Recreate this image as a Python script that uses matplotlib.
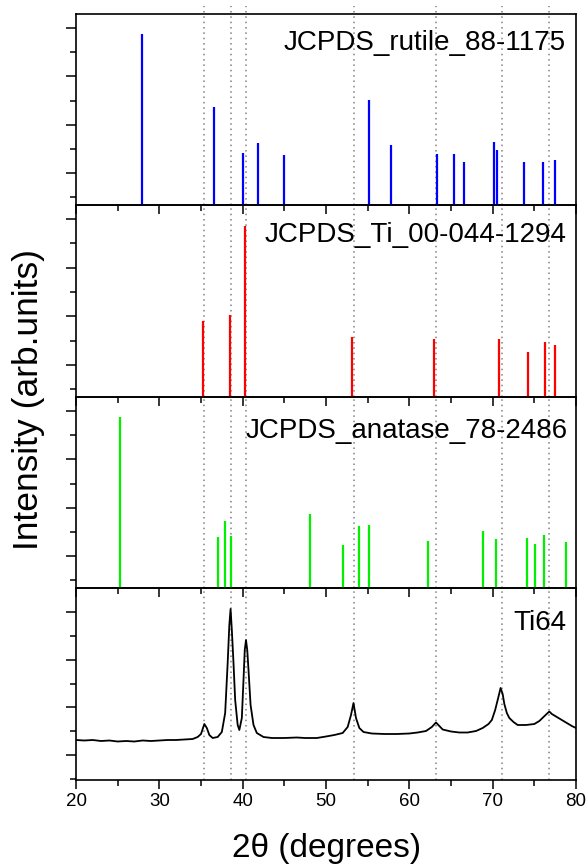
import numpy as np
import matplotlib
matplotlib.use('Agg')
import matplotlib.pyplot as plt
from matplotlib.ticker import FixedLocator, MultipleLocator, NullFormatter

plt.rcParams['font.family'] = ['Liberation Sans', 'DejaVu Sans']

# ---- reference cards (2theta, relative intensity %) ----
rutile_pos = [27.9, 36.5, 40.0, 41.8, 44.9, 55.2, 57.8, 63.3, 65.4, 66.6,
              70.2, 70.5, 73.8, 76.0, 77.5]
rutile_int = [100, 57.7, 30.7, 36.5, 29.3, 61.6, 35.0, 29.9, 30.1, 25.4,
              36.8, 32.4, 25.4, 25.0, 26.6]

ti_pos = [35.2, 38.5, 40.25, 53.1, 63.0, 70.75, 74.25, 76.3, 77.5]
ti_int = [44.2, 48.1, 100, 35.2, 33.8, 34.0, 26.4, 32.3, 30.1]

anatase_pos = [25.3, 37.0, 37.85, 38.6, 48.1, 52.0, 53.95, 55.1, 62.2, 68.8,
               70.35, 74.1, 75.1, 76.15, 78.75]
anatase_int = [100, 29.7, 39.3, 30.5, 43.4, 25.2, 36.4, 36.8, 27.4, 33.6,
               28.9, 29.3, 25.6, 31.1, 27.0]

ti64_2theta = [20.0, 21.0, 22.0, 23.0, 24.0, 25.0, 26.0, 27.0, 28.0, 29.0,
               30.0, 31.0, 32.0, 33.0, 34.0, 34.6, 35.0, 35.4, 35.7, 36.0,
               36.4, 37.0, 37.5, 37.9, 38.2, 38.4, 38.55, 38.7, 38.9, 39.1,
               39.4, 39.6, 39.9, 40.1, 40.25, 40.4, 40.55, 40.7, 40.95, 41.3,
               41.7, 42.5, 43.5, 45.0, 46.5, 47.5, 48.9, 50.0, 51.0, 52.0,
               52.6, 53.0, 53.3, 53.6, 54.0, 54.5, 55.5, 57.0, 58.5, 60.0,
               61.0, 62.0, 62.7, 63.2, 63.6, 64.0, 65.0, 66.0, 67.0, 68.0,
               68.8, 69.5, 69.9, 70.3, 70.6, 70.95, 71.2, 71.4, 71.7, 72.0,
               72.5, 73.0, 74.0, 75.0, 75.6, 76.1, 76.6, 76.8, 77.1, 77.7,
               78.3, 78.9, 79.5, 80.0]
ti64_int = [40, 39.5, 40, 39, 39.5, 38.5, 39, 38.5, 39.5, 39,
            39.5, 40, 40, 40.5, 41, 43, 46, 56, 52, 45,
            42, 43, 48, 67, 117, 155, 171, 150, 117, 80,
            55, 50, 62, 100, 130, 140, 130, 110, 75, 55,
            47, 43, 42, 42, 42.5, 42, 42, 43.5, 45, 47,
            53, 65, 77, 62, 52, 48, 46.5, 46, 46, 46.5,
            47.5, 49, 53, 57.5, 54, 50.5, 48.5, 47.5, 47.5, 49,
            52, 56, 60, 70, 80, 92, 86, 76, 67, 62,
            58, 55, 55, 56, 59, 63, 67, 68.5, 66, 63,
            60, 57, 54, 52]

# Ti (alpha) peak guide lines
guide_lines = [35.41, 38.65, 40.35, 53.31, 63.21, 71.08, 76.71]

labels = ['JCPDS_rutile_88-1175', 'JCPDS_Ti_00-044-1294',
          'JCPDS_anatase_78-2486', 'Ti64']

W, H = 588, 865
fig = plt.figure(figsize=(W / 100, H / 100), dpi=100)

left, right = 76, 576
edges = [14, 205, 397, 588, 780]   # panel borders in pixels (top -> bottom)

axes = []
for i in range(4):
    top, bot = edges[i], edges[i + 1]
    ax = fig.add_axes([left / W, 1 - bot / H, (right - left) / W, (bot - top) / H])
    ax.patch.set_visible(False)
    axes.append(ax)

stick_sets = [(rutile_pos, rutile_int, '#0000ff'),
              (ti_pos, ti_int, '#ff0000'),
              (anatase_pos, anatase_int, '#00f000')]

for ax, (pos, inten, col) in zip(axes[:3], stick_sets):
    ax.vlines(pos, 0, inten, colors=col, lw=1.6, zorder=3)
    ax.set_ylim(0, 112)
    ax.yaxis.set_major_locator(FixedLocator([18.6, 47.0, 75.4, 103.8]))
    ax.yaxis.set_minor_locator(FixedLocator([4.4, 32.8, 61.2, 89.6]))

ax4 = axes[3]
ax4.plot(ti64_2theta, ti64_int, color='black', lw=1.3, zorder=3)
ax4.set_ylim(0, 192)
ax4.yaxis.set_major_locator(FixedLocator([25, 72.6, 120.2, 167.8]))
ax4.yaxis.set_minor_locator(FixedLocator([1.2, 48.8, 96.4, 144.0]))

label_y = [0.8115, 0.809, 0.785, 0.781]
label_x = [0.98, 0.981, 0.984, 0.981]

for i, ax in enumerate(axes):
    ax.set_xlim(20, 80)
    ax.xaxis.set_major_locator(MultipleLocator(10))
    ax.xaxis.set_minor_locator(MultipleLocator(5))
    ax.yaxis.set_major_formatter(NullFormatter())
    ax.tick_params(axis='x', which='major', direction='out', length=6.5,
                   width=1.1, labelsize=13.5, pad=3.2)
    ax.tick_params(axis='x', which='minor', direction='out', length=4,
                   width=1.1)
    ax.tick_params(axis='y', which='major', direction='out', length=7.2,
                   width=1.1)
    ax.tick_params(axis='y', which='minor', direction='out', length=4.3,
                   width=1.1)
    ax.tick_params(top=False, right=False)
    if i < 3:
        ax.tick_params(axis='x', labelbottom=False)
    for sp in ax.spines.values():
        sp.set_linewidth(1.2)
    ymax = 1.04 if i == 0 else 1.0
    for g in guide_lines:
        ax.axvline(g, 0, ymax, color='#808080', lw=1.1, ls=(0, (1, 2.5)),
                   zorder=1, clip_on=False)
    ax.text(label_x[i], label_y[i], labels[i], transform=ax.transAxes,
            ha='right', va='baseline', fontsize=20)

fig.text(29 / W, 1 - 399 / H, 'Intensity (arb.units)', rotation=90,
         ha='center', va='center', fontsize=25.5)
fig.text(326.7 / W, 1 - 856.7 / H, '2θ (degrees)', ha='center',
         va='baseline', fontsize=24)

fig.savefig('out.png', dpi=100)
